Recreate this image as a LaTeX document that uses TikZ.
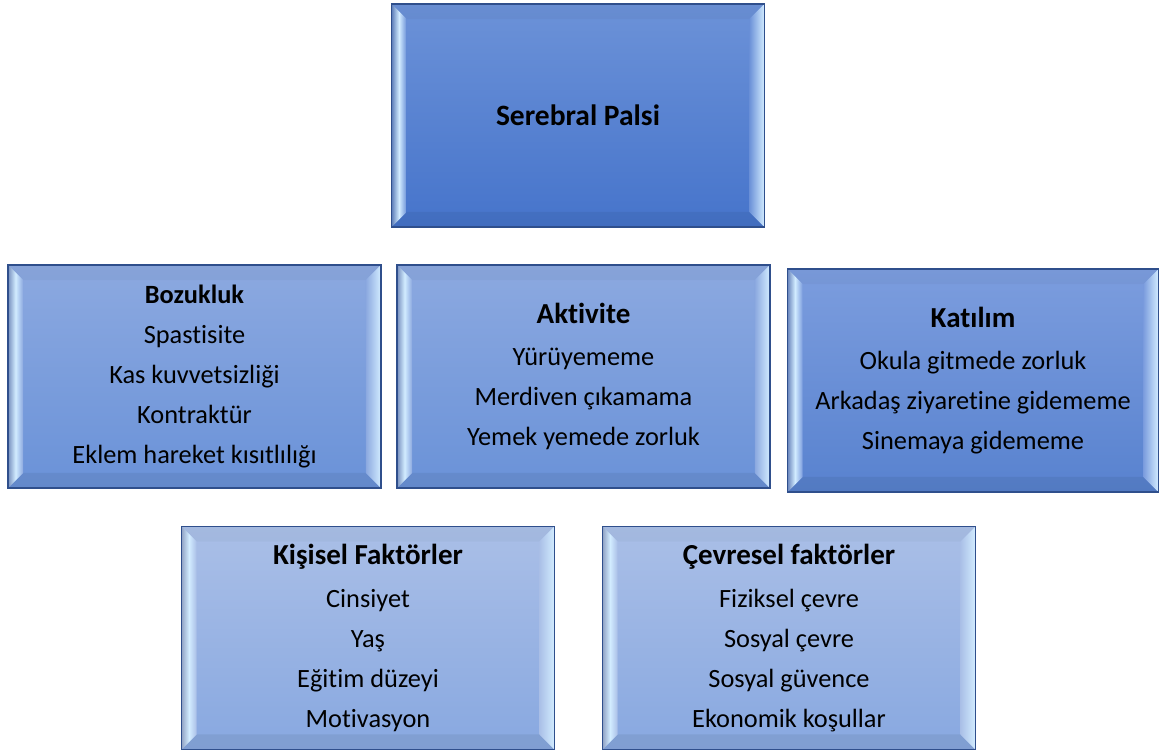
\documentclass[tikz,border=0pt]{standalone}
\usepackage{fontspec}
\setmainfont{Carlito}[Ligatures={NoCommon}]
\usetikzlibrary{calc}

\definecolor{edgeblue}{HTML}{2F4F8C}
\definecolor{spTop}{HTML}{6C92D8}
\definecolor{spBot}{HTML}{4674CB}
\definecolor{midTop}{HTML}{8CA9E0}
\definecolor{midBot}{HTML}{6A92D8}
\definecolor{katTop}{HTML}{7C9DDE}
\definecolor{katBot}{HTML}{5882CF}
\definecolor{lowTop}{HTML}{AABFE7}
\definecolor{lowBot}{HTML}{88A8E0}
\definecolor{glow}{HTML}{D2ECFF}

\begin{document}
\begin{tikzpicture}[
    x=0.02cm, y=-0.02cm,
    % bevelled panel, #1 = base colour of the side strips
    bevel/.style={path picture={
        \path (path picture bounding box.north west) coordinate (pnw)
              (path picture bounding box.north east) coordinate (pne)
              (path picture bounding box.south west) coordinate (psw)
              (path picture bounding box.south east) coordinate (pse);
        \fill[black, opacity=0.03] (pnw) -- (pne) -- ($(pne)+(-0.3cm,-0.3cm)$) -- ($(pnw)+(0.3cm,-0.3cm)$) -- cycle;
        \fill[black, opacity=0.06] (psw) -- (pse) -- ($(pse)+(-0.3cm,0.3cm)$) -- ($(psw)+(0.3cm,0.3cm)$) -- cycle;
        \shade[left color=#1!85!black, right color=#1, middle color=glow] (pnw) -- (psw) -- ($(psw)+(0.3cm,0.3cm)$) -- ($(pnw)+(0.3cm,-0.3cm)$) -- cycle;
        \shade[left color=#1, right color=glow] (pne) -- (pse) -- ($(pse)+(-0.3cm,0.3cm)$) -- ($(pne)+(-0.3cm,-0.3cm)$) -- cycle;
    }},
    panel/.style={rectangle, draw=edgeblue, line width=0.9pt, align=center,
        minimum width=7.46cm, minimum height=4.46cm, inner sep=0pt,
        font=\fontsize{15}{22.8}\selectfont},
    spbox/.style={panel, top color=spTop, bottom color=spBot, bevel=spTop},
    midbox/.style={panel, top color=midTop, bottom color=midBot, bevel=midTop},
    katbox/.style={panel, top color=katTop, bottom color=katBot, bevel=katTop},
    lowbox/.style={panel, top color=lowTop, bottom color=lowBot, bevel=lowTop}
]
\useasboundingbox (0,0) rectangle (1160,751);

\node[spbox] (sp) at (578,115.5) {{\fontsize{16.8}{20}\selectfont\bfseries Serebral Palsi}};

\node[midbox] (boz) at (194.5,376.5) {\textbf{Bozukluk}\\Spastisite\\Kas kuvvetsizliği\\Kontraktür\\Eklem hareket kısıtlılığı};
\node[midbox] (akt) at (583.5,376.5) {{\fontsize{16.5}{22.8}\selectfont\bfseries Aktivite}\\[1.5pt]Yürüyememe\\Merdiven çıkamama\\Yemek yemede zorluk};
\node[katbox, minimum width=7.42cm] (kat) at (973,380.5) {{\fontsize{16.5}{22.8}\selectfont\bfseries Katılım}\\[1.5pt]Okula gitmede zorluk\\Arkadaş ziyaretine gidememe\\Sinemaya gidememe};

\node[lowbox] (kis) at (368,638) {{\fontsize{16.5}{22.8}\selectfont\bfseries Kişisel Faktörler}\\[1.5pt]Cinsiyet\\Yaş\\Eğitim düzeyi\\Motivasyon};
\node[lowbox] (cev) at (789,638) {{\fontsize{16.5}{22.8}\selectfont\bfseries Çevresel faktörler}\\[1.5pt]Fiziksel çevre\\Sosyal çevre\\Sosyal güvence\\Ekonomik koşullar};
\end{tikzpicture}
\end{document}
